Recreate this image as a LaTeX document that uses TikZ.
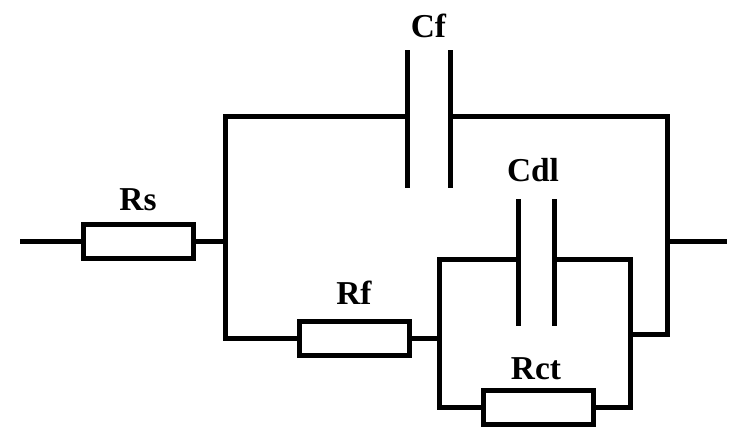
\documentclass[tikz,border=0pt]{standalone}
\usepackage{fontspec}
\setmainfont{Liberation Serif}
\usetikzlibrary{positioning}

\begin{document}
\begin{tikzpicture}[
    res/.style={rectangle, draw, line width=0.1cm, fill=white, minimum width=2.2cm, minimum height=0.68cm, inner sep=0pt},
    tag/.style={font=\bfseries\fontsize{19}{19}\selectfont, inner sep=0pt},
    wire/.style={line width=0.1cm, line cap=rect},
    plate/.style={line width=0.1cm},
]

%Background
\useasboundingbox (0, 0) rectangle (14.92, 8.88);

% Leads
\coordinate (in) at (0.44, 4.06);
\coordinate (out) at (14.48, 4.06);

% Resistors
\node[res] (rs) at (2.76, 4.06) {};
\node[res] (rf) at (7.08, 2.12) {};
\node[res] (rct) at (10.76, 0.74) {};

% Capacitor plates
\coordinate (cf_a_top) at (8.14, 7.88);
\coordinate (cf_a_bot) at (8.14, 5.12);
\coordinate (cf_b_top) at (9.0, 7.88);
\coordinate (cf_b_bot) at (9.0, 5.12);
\coordinate (cdl_a_top) at (10.36, 4.9);
\coordinate (cdl_a_bot) at (10.36, 2.36);
\coordinate (cdl_b_top) at (11.08, 4.9);
\coordinate (cdl_b_bot) at (11.08, 2.36);

% Corners
\coordinate (left_top) at (4.5, 6.56);
\coordinate (left_mid) at (4.5, 4.06);
\coordinate (left_bot) at (4.5, 2.12);
\coordinate (cf_a) at (8.14, 6.56);
\coordinate (cf_b) at (9.0, 6.56);
\coordinate (right_top) at (13.34, 6.56);
\coordinate (right_mid) at (13.34, 4.06);
\coordinate (right_bot) at (13.34, 2.2);
\coordinate (inner_l_top) at (8.78, 3.7);
\coordinate (inner_l_mid) at (8.78, 2.12);
\coordinate (inner_l_bot) at (8.78, 0.74);
\coordinate (inner_r_top) at (12.6, 3.7);
\coordinate (inner_r_mid) at (12.6, 2.2);
\coordinate (inner_r_bot) at (12.6, 0.74);
\coordinate (cdl_a) at (10.36, 3.7);
\coordinate (cdl_b) at (11.08, 3.7);

% Labels
\node[tag] (rs_label) at (2.76, 4.88) {Rs};
\node[tag] (cf_label) at (8.57, 8.36) {Cf};
\node[tag] (cdl_label) at (10.66, 5.48) {Cdl};
\node[tag] (rf_label) at (7.08, 3.02) {Rf};
\node[tag] (rct_label) at (10.72, 1.5) {Rct};

% Wires
\draw[wire] (in) -- (rs);
\draw[wire] (rs) -- (left_mid);
\draw[wire] (left_top) -- (left_bot) -- (rf);
\draw[wire] (left_top) -- (cf_a);
\draw[wire] (cf_b) -- (right_top) -- (right_bot) -- (inner_r_mid);
\draw[wire] (right_mid) -- (out);
\draw[wire] (rf) -- (inner_l_mid);
\draw[wire] (cdl_a) -- (inner_l_top) -- (inner_l_bot) -- (rct);
\draw[wire] (cdl_b) -- (inner_r_top) -- (inner_r_bot) -- (rct);

% Plates
\draw[plate] (cf_a_top) -- (cf_a_bot);
\draw[plate] (cf_b_top) -- (cf_b_bot);
\draw[plate] (cdl_a_top) -- (cdl_a_bot);
\draw[plate] (cdl_b_top) -- (cdl_b_bot);

\end{tikzpicture}
\end{document}
